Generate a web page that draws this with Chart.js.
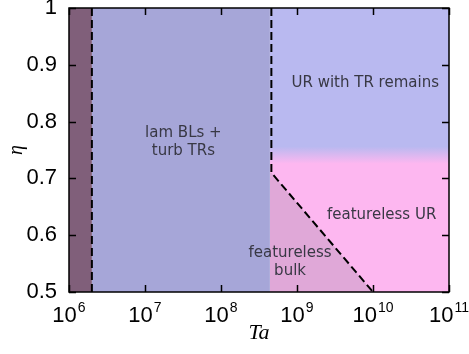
<!DOCTYPE html>
<html>
<head>
<meta charset="utf-8">
<script src="https://cdn.jsdelivr.net/npm/chart.js@4.4.1/dist/chart.umd.min.js"></script>
<style>
  html, body { margin: 0; padding: 0; background: #ffffff; }
  #wrap { width: 469px; height: 354px; }
</style>
</head>
<body>
<div id="wrap"><canvas id="chart"></canvas></div>
<script>
// axis ticks
const xTicks = [1e6, 1e7, 1e8, 1e9, 1e10, 1e11];
const xExponents = ["6", "7", "8", "9", "10", "11"];
const yTicks = [0.5, 0.6, 0.7, 0.8, 0.9, 1];

// regime areas (filled down to eta = 0.5)
const stripTa = [1e6, 2e6];
const stripEta = [1, 1];
const lamTa = [2e6, 4.4e8];
const lamEta = [1, 1];
const urTa = [4.4e8, 1e11];
const urEta = [1, 1];
const urSplitEta = 0.74;
const bulkTa = [4.4e8, 4.6e8, 1e10];
const bulkEta = [0.71, 0.71, 0.5];

// dashed transition lines
const dashLeftTa = [2e6, 2e6];
const dashLeftEta = [0.5, 1];
const dashRightTa = [4.6e8, 4.6e8, 1e10];
const dashRightEta = [1, 0.71, 0.5];

// region names
const regionLabels = [["lam BLs +", "turb TRs"], ["UR with TR remains"], ["featureless UR"], ["featureless", "bulk"]];
const labelTa = [3.2e7, 7.9e9, 1.3e10, 8.1e8];
const labelEta = [0.764, 0.868, 0.636, 0.553];

const urBlue = "#b9b9f0";
const urPink = "#fdb7f0";

const pts = (xs, ys) => xs.map((x, i) => ({x: x, y: ys[i]}));

const area = (xs, ys, color, order) => ({
    data: pts(xs, ys),
    backgroundColor: color,
    borderWidth: 0,
    pointRadius: 0,
    fill: "start",
    order: order
});

const dashed = (xs, ys) => ({
    data: pts(xs, ys),
    borderColor: "#000000",
    borderWidth: 2,
    borderDash: [8, 4],
    pointRadius: 0,
    fill: false,
    order: 0
});

// fades the upper blue region into the pink one below
const urFill = function (c) {
    const chart = c.chart;
    if (!chart.chartArea) return urBlue;
    const y = chart.scales.y;
    const g = chart.ctx.createLinearGradient(0, y.getPixelForValue(urSplitEta + 0.016), 0, y.getPixelForValue(urSplitEta - 0.014));
    g.addColorStop(0, urBlue);
    g.addColorStop(1, urPink);
    return g;
};

const frame = {
    id: "frame",
    afterDatasetsDraw(chart) {
        const ctx = chart.ctx;
        const a = chart.chartArea;
        const xs = chart.scales.x;
        const ys = chart.scales.y;
        ctx.save();

        // region names
        ctx.fillStyle = "#383844";
        ctx.font = "15px 'DejaVu Sans'";
        ctx.textAlign = "center";
        ctx.textBaseline = "middle";
        regionLabels.forEach((lines, i) => {
            const px = xs.getPixelForValue(labelTa[i]);
            const py = ys.getPixelForValue(labelEta[i]);
            lines.forEach((t, j) => {
                ctx.fillText(t, px, py + (j - (lines.length - 1) / 2) * 18);
            });
        });

        // box
        ctx.strokeStyle = "#000000";
        ctx.lineWidth = 1.5;
        ctx.strokeRect(a.left, a.top, a.right - a.left, a.bottom - a.top);

        // inward ticks on all sides
        ctx.beginPath();
        xTicks.forEach(v => {
            const px = Math.round(xs.getPixelForValue(v)) + 0.5;
            ctx.moveTo(px, a.bottom); ctx.lineTo(px, a.bottom - 7);
            ctx.moveTo(px, a.top); ctx.lineTo(px, a.top + 7);
        });
        yTicks.forEach(v => {
            const py = Math.round(ys.getPixelForValue(v)) + 0.5;
            ctx.moveTo(a.left, py); ctx.lineTo(a.left + 7, py);
            ctx.moveTo(a.right, py); ctx.lineTo(a.right - 7, py);
        });
        ctx.stroke();

        // x tick labels as powers of ten
        ctx.fillStyle = "#000000";
        ctx.textAlign = "left";
        ctx.textBaseline = "alphabetic";
        xTicks.forEach((v, i) => {
            const px = xs.getPixelForValue(v);
            ctx.font = "22px 'Liberation Sans'";
            const wb = ctx.measureText("10").width;
            ctx.font = "14px 'Liberation Sans'";
            const we = ctx.measureText(xExponents[i]).width;
            const x0 = px - (wb + we + 1) / 2;
            ctx.font = "22px 'Liberation Sans'";
            ctx.fillText("10", x0, a.bottom + 30);
            ctx.font = "14px 'Liberation Sans'";
            ctx.fillText(xExponents[i], x0 + wb + 1, a.bottom + 20);
        });
        ctx.restore();
    }
};

new Chart(document.getElementById("chart"), {
    type: "line",
    data: {
        datasets: [
            area(stripTa, stripEta, "#805f7a", 3),
            area(lamTa, lamEta, "#a6a6d8", 3),
            area(urTa, urEta, urFill, 3),
            area(bulkTa, bulkEta, "#e0a8d8", 2),
            dashed(dashLeftTa, dashLeftEta),
            dashed(dashRightTa, dashRightEta)
        ]
    },
    options: {
        responsive: true,
        maintainAspectRatio: false,
        animation: false,
        layout: {padding: {top: 8, right: 20, bottom: 0, left: 0}},
        plugins: {
            legend: {display: false},
            tooltip: {enabled: false},
            filler: {propagate: false}
        },
        scales: {
            x: {
                type: "logarithmic",
                min: 1e6,
                max: 1e11,
                afterBuildTicks: s => { s.ticks = xTicks.map(v => ({value: v})); },
                afterFit: s => { s.height = 62; s.paddingLeft = 0; s.paddingRight = 0; },
                ticks: {display: false},
                grid: {display: false},
                border: {display: false},
                title: {
                    display: true,
                    text: "Ta",
                    color: "#000000",
                    font: {family: "'Liberation Serif'", style: "italic", size: 22},
                    padding: {top: 0, bottom: 8}
                }
            },
            y: {
                type: "linear",
                min: 0.5,
                max: 1,
                afterBuildTicks: s => { s.ticks = yTicks.map(v => ({value: v})); },
                afterFit: s => { s.width = 69; s.paddingTop = 0; s.paddingBottom = 0; },
                ticks: {
                    color: "#000000",
                    font: {family: "'Liberation Sans'", size: 22},
                    padding: 4,
                    callback: v => String(v)
                },
                grid: {display: false},
                border: {display: false},
                title: {
                    display: true,
                    text: "η",
                    color: "#000000",
                    font: {family: "'Liberation Serif'", style: "italic", size: 20},
                    padding: {top: 5, bottom: 0}
                }
            }
        }
    },
    plugins: [frame]
});
</script>
</body>
</html>
